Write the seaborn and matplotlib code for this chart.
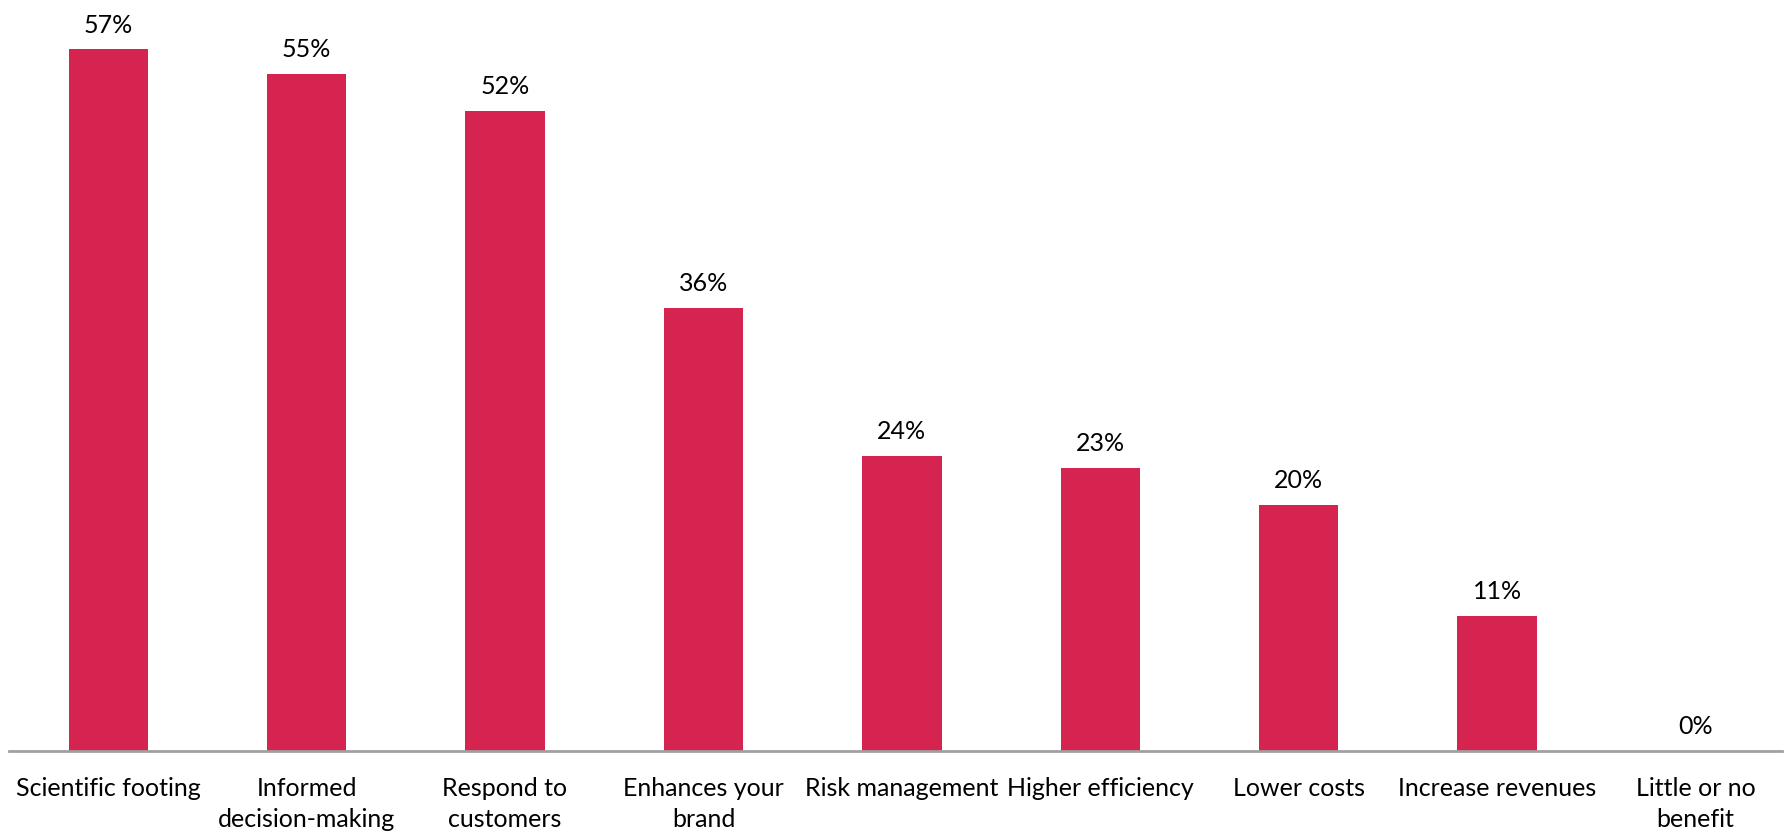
import matplotlib
matplotlib.use("Agg")
import matplotlib.pyplot as plt
import seaborn as sns
import pandas as pd

categories = ["Scientific footing", "Informed\ndecision-making", "Respond to\ncustomers",
              "Enhances your\nbrand", "Risk management", "Higher efficiency",
              "Lower costs", "Increase revenues", "Little or no\nbenefit"]
values = [57, 55, 52, 36, 24, 23, 20, 11, 0]
value_labels = ["57%", "55%", "52%", "36%", "24%", "23%", "20%", "11%", "0%"]

sns.set_style("white")
plt.rcParams["font.family"] = ["Lato", "DejaVu Sans"]

df = pd.DataFrame({"cat": categories, "val": values})

fig = plt.figure(figsize=(17.85, 8.32), dpi=100)
ax = fig.add_axes([9 / 1785, 81 / 832, 1773 / 1785, 751 / 832])
sns.barplot(data=df, x="cat", y="val", color="#D62450", width=0.4, saturation=1,
            ax=ax, edgecolor="none")

for i, (v, lab) in enumerate(zip(values, value_labels)):
    ax.annotate(lab, (i, v), xytext=(0, 9), textcoords="offset points",
                ha="center", va="bottom", fontsize=18, color="#000000")

ax.set_xlim(-0.5, 8.436)
ax.set_ylim(0, 61)
ax.set_xlabel("")
ax.set_ylabel("")
ax.set_yticks([])
for s in ["top", "right", "left"]:
    ax.spines[s].set_visible(False)
ax.spines["bottom"].set_color("#A0A0A0")
ax.spines["bottom"].set_linewidth(2)
ax.tick_params(axis="x", length=0, pad=19, labelsize=18, colors="#000000")
for t in ax.get_xticklabels():
    t.set_multialignment("center")
    t.set_linespacing(1.42)

fig.savefig("out.png", dpi=100)
